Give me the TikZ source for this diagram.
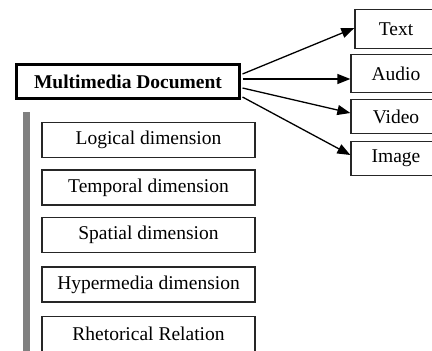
\documentclass[tikz,border=0pt]{standalone}
\usepackage{fontspec}
\setmainfont{Liberation Serif}
\usetikzlibrary{arrows.meta,calc}
\begin{document}
\begin{tikzpicture}[x=1pt,y=-1pt,
  box/.style={draw=black!85, line width=1.3pt, inner sep=0pt, font=\fontsize{19.5}{22}\selectfont},
  lbox/.style={box, minimum width=213pt, minimum height=35pt},
  rbox/.style={box, minimum width=90pt},
  arr/.style={-{Triangle[length=13pt,width=10pt]}, line width=1.3pt}]
\useasboundingbox (0,0) rectangle (432,351);
\clip (0,0) rectangle (432,351);
\node[box, draw=black, line width=3pt, minimum width=223pt, minimum height=34pt,
      font=\bfseries\fontsize{19.5}{22}\selectfont] (md) at (128,81.5) {Multimedia Document};
\node[rbox, minimum width=82pt, minimum height=39pt] (t) at (396,29) {Text};
\node[rbox, minimum height=38pt] (a) at (396,73.5) {Audio};
\node[rbox, minimum height=34pt] (v) at (396,116.5) {Video};
\node[rbox, minimum height=34pt] (i) at (396,158.5) {Image};
\draw[arr] ($(md.east)+(1.5,-7.5)$) -- ($(t.west)+(0,-1)$);
\draw[arr] ($(md.east)+(1.5,-2.5)$) -- ($(a.west)+(0,5.5)$);
\draw[arr] ($(md.east)+(1.5,6.5)$) -- ($(v.west)+(0,-3.5)$);
\draw[arr] ($(md.east)+(1.5,15.5)$) -- ($(i.west)+(0,-3.5)$);
\fill[black!50] (23,112) rectangle (30,351);
\node[lbox] (l1) at (148.5,140) {Logical dimension};
\node[lbox] (l2) at (148.5,187.5) {Temporal dimension};
\node[lbox] (l3) at (148.5,235) {Spatial dimension};
\node[lbox] (l4) at (148.5,284.5) {Hypermedia dimension};
\node[lbox] (l5) at (148.5,334) {Rhetorical Relation};
\end{tikzpicture}
\end{document}
